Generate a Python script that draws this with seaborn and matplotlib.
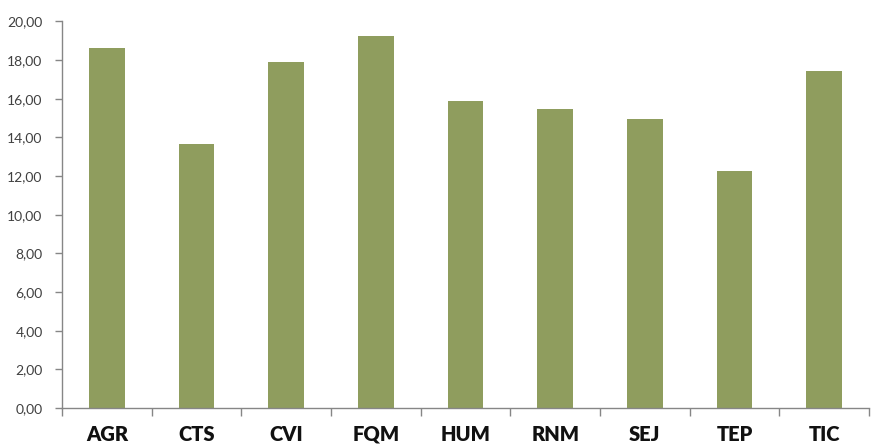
import matplotlib
matplotlib.use("Agg")
import matplotlib.pyplot as plt
import matplotlib.ticker as mticker
import seaborn as sns
import pandas as pd

areas = ["AGR", "CTS", "CVI", "FQM", "HUM", "RNM", "SEJ", "TEP", "TIC"]
scores = [18.65, 13.68, 17.88, 19.27, 15.90, 15.49, 14.97, 12.28, 17.46]

bar_color = "#8F9D5E"
axis_color = "#868686"

sns.set_theme(style="white")
plt.rcParams["font.family"] = ["Lato", "DejaVu Sans"]

df = pd.DataFrame({"area": areas, "score": scores})

fig = plt.figure(figsize=(8.72, 4.46), dpi=100)
ax = fig.add_axes([62 / 872, 38 / 446, (869 - 62) / 872, (408 - 21.5) / 446])

sns.barplot(data=df, x="area", y="score", color=bar_color, saturation=1,
            width=0.4, linewidth=0, ax=ax)

ax.set_xlim(-0.5, len(areas) - 0.5)
ax.set_ylim(0, 20)
ax.set_yticks(range(0, 21, 2))
ax.yaxis.set_major_formatter(mticker.FuncFormatter(lambda v, _: f"{v:.2f}".replace(".", ",")))

# category separators as ticks on the x axis
ax.set_xticks([i - 0.5 for i in range(len(areas) + 1)], minor=True)
ax.tick_params(axis="x", which="minor", bottom=True, length=6, width=1, color=axis_color, direction="out")
ax.tick_params(axis="x", which="major", bottom=False, length=0, pad=12)
ax.tick_params(axis="y", left=True, length=5, width=1, color=axis_color, direction="out",
               pad=9, labelsize=10, labelcolor="#404040")

for lbl in ax.get_xticklabels():
    lbl.set_fontsize(14.5)
    lbl.set_fontweight("heavy")
    lbl.set_color("#111111")

ax.set_xlabel("")
ax.set_ylabel("")
for side in ["top", "right"]:
    ax.spines[side].set_visible(False)
for side in ["left", "bottom"]:
    ax.spines[side].set_color(axis_color)
    ax.spines[side].set_linewidth(1)

fig.savefig("out.png", dpi=100, facecolor="white")
